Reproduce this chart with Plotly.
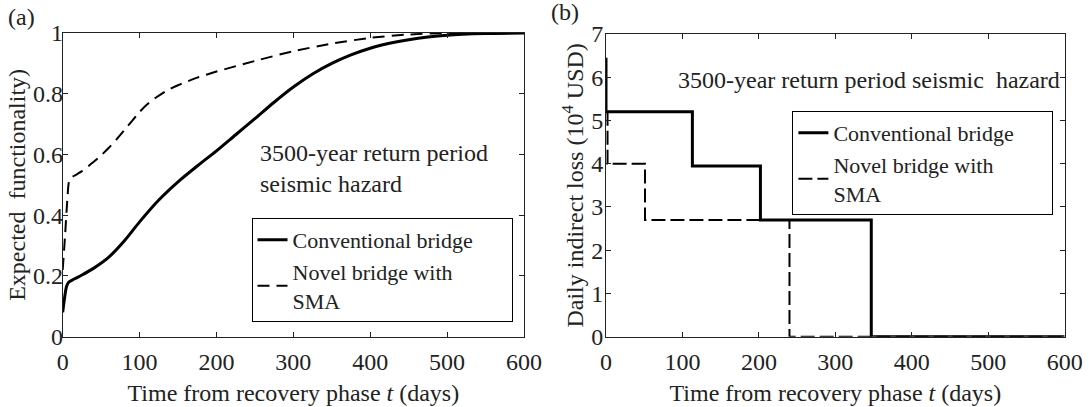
import plotly.graph_objects as go

# ---------------- data ----------------
# (a) expected functionality vs time
t_conv = [0, 2, 5, 8, 15, 25, 40, 60, 80, 100, 125, 150, 175, 200, 225, 250, 275,
          300, 325, 350, 375, 400, 425, 450, 475, 500, 550, 600]
f_conv = [0.08, 0.12, 0.165, 0.18, 0.19, 0.203, 0.225, 0.262, 0.315, 0.378, 0.45, 0.51,
          0.562, 0.612, 0.665, 0.718, 0.772, 0.822, 0.865, 0.9, 0.928, 0.95, 0.966, 0.978,
          0.987, 0.993, 0.998, 1.0]
t_sma = [0, 3, 6, 9, 15, 25, 40, 50, 60, 70, 80, 90, 100, 110, 120, 135, 150, 175, 200,
         250, 300, 350, 400, 450, 500, 600]
f_sma = [0.22, 0.33, 0.45, 0.52, 0.53, 0.545, 0.575, 0.597, 0.622, 0.65, 0.68, 0.71, 0.74,
         0.765, 0.785, 0.81, 0.828, 0.853, 0.873, 0.908, 0.94, 0.965, 0.984, 0.995, 1.0, 1.0]

# (b) daily indirect loss (10^4 USD), step functions (hv)
t_loss_conv = [0, 0, 113, 202, 347, 600]
l_conv = [6.45, 5.2, 3.95, 2.7, 0, 0]
t_loss_sma = [2, 2, 51, 240, 600]
l_sma = [5.2, 4.0, 2.7, 0, 0]

PAD = "\u00a0" * 6
names = ["Conventional bridge" + PAD, "Novel bridge with<br>SMA"]
x_ticks = [0, 100, 200, 300, 400, 500, 600]
y_ticks_a = [0, 0.2, 0.4, 0.6, 0.8, 1]
y_ticks_b = [0, 1, 2, 3, 4, 5, 6, 7]

FONT = "Liberation Serif"
W, H = 1089, 407
INK = "#222"

fig = go.Figure()

fig.add_trace(go.Scatter(x=t_conv, y=f_conv, mode="lines", name=names[0],
                         line=dict(color="black", width=3, shape="spline", smoothing=0.8),
                         xaxis="x", yaxis="y", legend="legend"))
fig.add_trace(go.Scatter(x=t_sma, y=f_sma, mode="lines", name=names[1],
                         line=dict(color="black", width=2, dash="12px,7px",
                                   shape="spline", smoothing=0.6),
                         xaxis="x", yaxis="y", legend="legend"))
fig.add_trace(go.Scatter(x=t_loss_conv, y=l_conv, mode="lines", name=names[0],
                         line=dict(color="black", width=3, shape="hv"),
                         xaxis="x2", yaxis="y2", legend="legend2"))
fig.add_trace(go.Scatter(x=t_loss_sma, y=l_sma, mode="lines", name=names[1],
                         line=dict(color="black", width=2, dash="14px,5px", shape="hv"),
                         xaxis="x2", yaxis="y2", legend="legend2"))

axis_common = dict(showline=True, linecolor=INK, linewidth=1, mirror="ticks",
                   ticks="inside", ticklen=5, tickcolor=INK, showgrid=False,
                   zeroline=False, automargin=False,
                   tickfont=dict(family=FONT, size=24, color=INK))

xtitle = "Time from recovery phase <i>t</i> (days)"

fig.update_layout(
    width=W, height=H,
    margin=dict(l=0, r=0, t=0, b=0, autoexpand=False),
    paper_bgcolor="white", plot_bgcolor="white",
    font=dict(family=FONT, size=24, color=INK),
    xaxis=dict(domain=[62.7 / W, 524 / W], range=[0, 600], tickvals=x_ticks,
               anchor="y", ticklabelstandoff=3,
               title=dict(text=xtitle, font=dict(size=24), standoff=10),
               **axis_common),
    yaxis=dict(domain=[1 - 336.7 / H, 1 - 33 / H], range=[0, 1], tickvals=y_ticks_a,
               anchor="x", ticklabelstandoff=-6,
               title=dict(text="Expected\u00a0 functionality)", font=dict(size=24), standoff=0),
               **axis_common),
    xaxis2=dict(domain=[606 / W, 1064.7 / W], range=[0, 600], tickvals=x_ticks,
                anchor="y2", ticklabelstandoff=3,
                title=dict(text=xtitle, font=dict(size=24), standoff=10),
                **axis_common),
    yaxis2=dict(domain=[1 - 336.7 / H, 1 - 34 / H], range=[0, 7], tickvals=y_ticks_b,
                anchor="x2", ticklabelstandoff=-3,
                title=dict(text="Daily indirect loss (10<sup>4</sup> USD)", font=dict(size=24),
                           standoff=0),
                **axis_common),
    legend=dict(x=512.5 / W, y=1 - 218 / H, xanchor="right", yanchor="top",
                bordercolor="black", borderwidth=1, bgcolor="white",
                font=dict(family=FONT, size=22, color=INK), itemwidth=30,
                tracegroupgap=0),
    legend2=dict(x=1053.4 / W, y=1 - 111 / H, xanchor="right", yanchor="top",
                 bordercolor="black", borderwidth=1, bgcolor="white",
                 font=dict(family=FONT, size=22, color=INK), itemwidth=30,
                 tracegroupgap=0),
    showlegend=True,
    annotations=[
        dict(text="(a)", x=6 / W, y=1 - 17 / H, xref="paper", yref="paper",
             xanchor="left", yanchor="middle", showarrow=False,
             font=dict(family=FONT, size=24, color=INK)),
        dict(text="(b)", x=549 / W, y=1 - 12 / H, xref="paper", yref="paper",
             xanchor="left", yanchor="middle", showarrow=False,
             font=dict(family=FONT, size=24, color=INK)),
        dict(text="3500-year return period<br>seismic hazard", x=257.7 / W, y=1 - 169 / H,
             xref="paper", yref="paper", xanchor="left", yanchor="middle", align="left",
             showarrow=False, font=dict(family=FONT, size=24, color=INK)),
        dict(text="3500-year return period seismic\u00a0 hazard", x=676 / W, y=1 - 80 / H,
             xref="paper", yref="paper", xanchor="left", yanchor="middle", align="left",
             showarrow=False, font=dict(family=FONT, size=24, color=INK)),
    ],
)

fig.write_html("out.html")
